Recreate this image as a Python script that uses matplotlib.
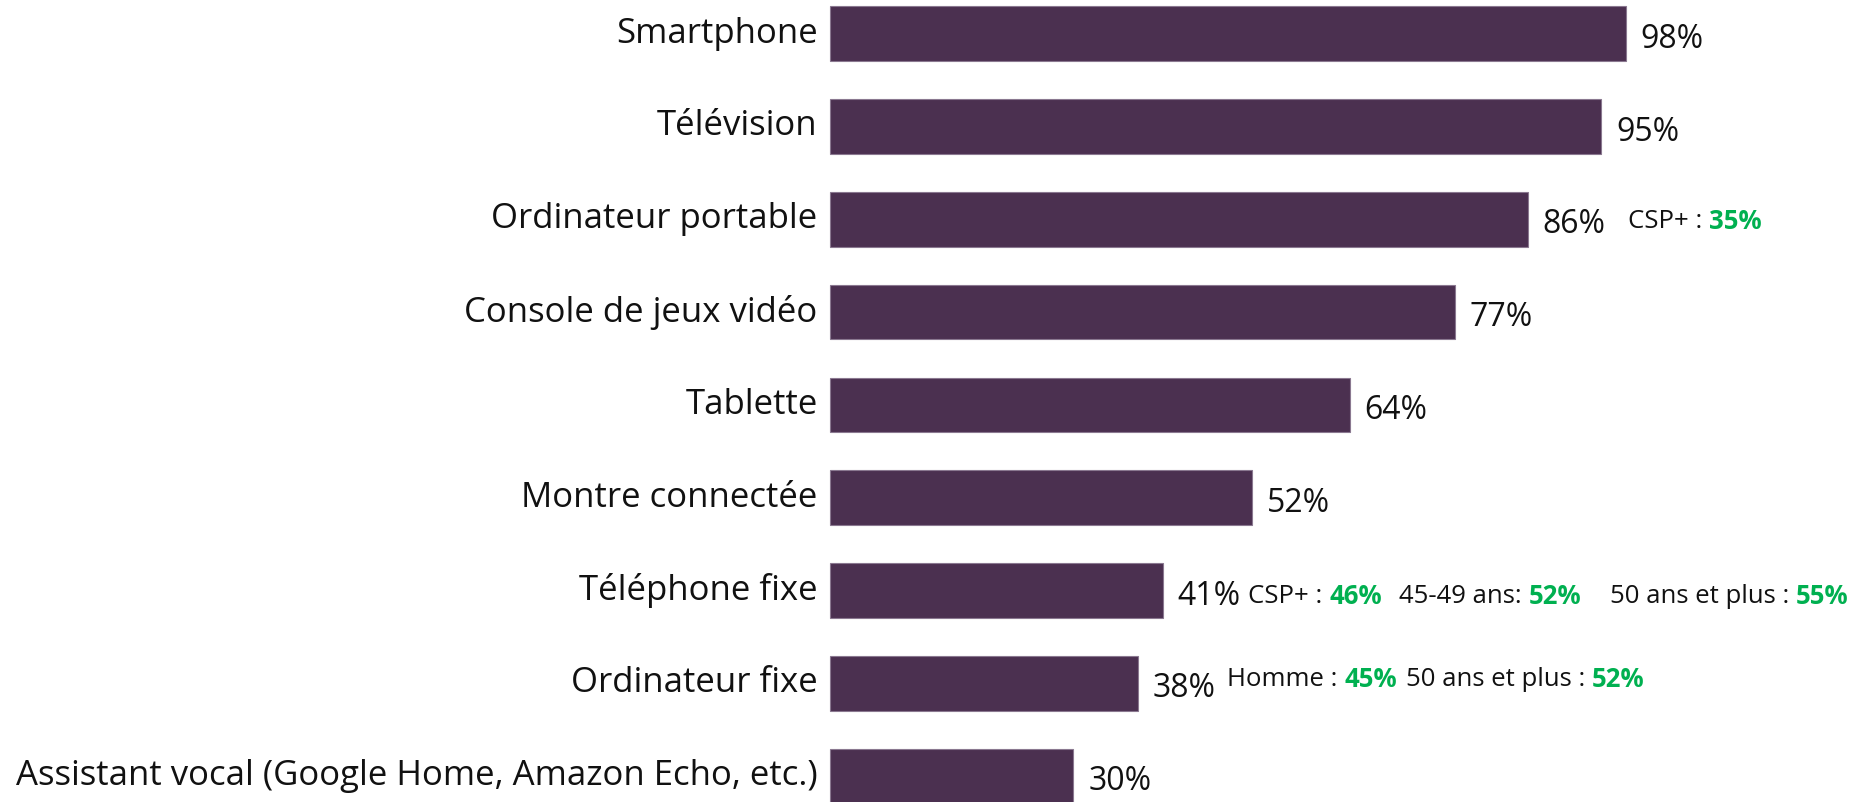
import matplotlib
matplotlib.use("Agg")
import matplotlib.pyplot as plt

categories = [
    "Smartphone",
    "Télévision",
    "Ordinateur portable",
    "Console de jeux vidéo",
    "Tablette",
    "Montre connectée",
    "Téléphone fixe",
    "Ordinateur fixe",
    "Assistant vocal (Google Home, Amazon Echo, etc.)",
]
values = [98, 95, 86, 77, 64, 52, 41, 38, 30]
value_labels = [f"{v}%" for v in values]

# sub-group highlights
highlight_rows = [2, 6, 6, 6, 7, 7]
highlight_prefixes = ["CSP+ : ", "CSP+ : ", "45-49 ans: ", "50 ans et plus : ", "Homme : ", "50 ans et plus : "]
highlight_values = ["35%", "46%", "52%", "55%", "45%", "52%"]
highlight_x = [98.3, 51.5, 70.1, 96.1, 48.9, 70.9]
highlight_dy = [0.02, 0.06, 0.06, 0.06, -0.04, -0.04]

BAR_COLOR = "#4B3050"
GREEN = "#00B050"
FONT = ["Open Sans", "DejaVu Sans"]

fig = plt.figure(figsize=(18.53, 8.02), dpi=100)
ax = fig.add_axes([0, 0, 1, 1])
ax.set_xlim(-102.2, 126.0)
ax.set_ylim(8.279, -0.363)
ax.axis("off")

ypos = list(range(len(categories)))
ax.barh(ypos, values, height=0.587, color=BAR_COLOR, edgecolor="#8a7890", linewidth=0.8)

for i, (cat, v, lab) in enumerate(zip(categories, values, value_labels)):
    ax.text(-1.5, i, cat, ha="right", va="center", fontsize=25, family=FONT, color="#111111")
    ax.text(v + 1.8, i + 0.06, lab, ha="left", va="center", fontsize=23, family=FONT, color="#111111")

for r, pre, hv, hx, dy in zip(highlight_rows, highlight_prefixes, highlight_values, highlight_x, highlight_dy):
    t = ax.text(hx, r + dy, pre, ha="left", va="center", fontsize=18.5, family=FONT, color="#111111")
    ax.annotate(hv, xy=(1, 0.5), xycoords=t, ha="left", va="center",
                fontsize=18.5, family=FONT, color=GREEN, fontweight="bold")

fig.savefig("out.png", dpi=100)
